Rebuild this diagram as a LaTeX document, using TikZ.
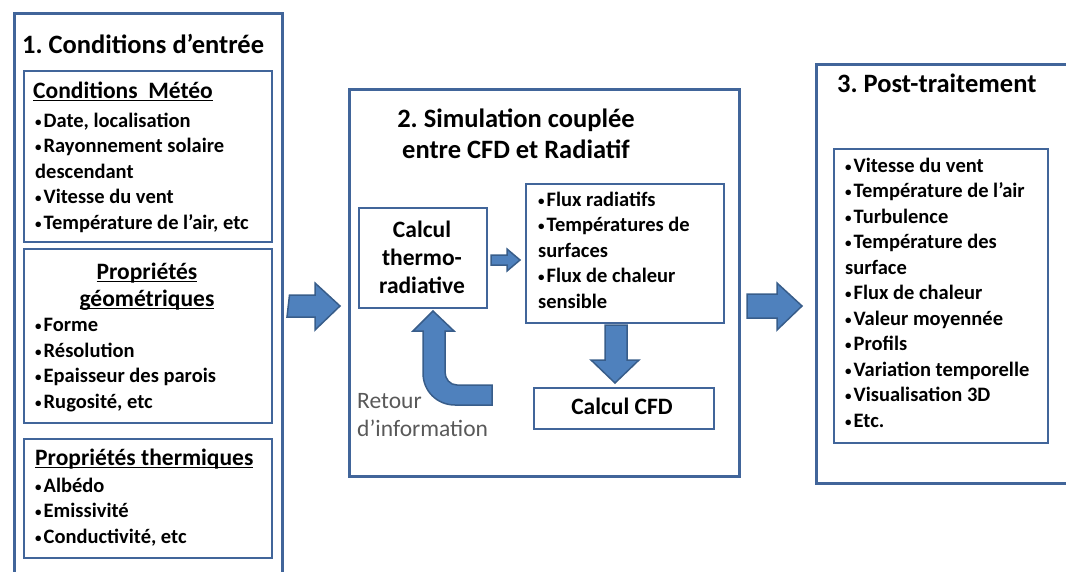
\documentclass[tikz,border=0pt]{standalone}
\usepackage{fontspec}
\setmainfont{Carlito}
\usepackage{graphicx}
\usetikzlibrary{%
  calc,%
}
\frenchspacing

\newsavebox\ulinebox
\newcommand{\myuline}[1]{\sbox\ulinebox{#1}\rlap{\rule[-3.3pt]{\wd\ulinebox}{1.3pt}}\usebox\ulinebox}
\newcommand{\puce}{\makebox[8.5pt][l]{\raisebox{1pt}{\fontsize{13}{13}\selectfont•}}}

\definecolor{boxline}{HTML}{41659A}
\definecolor{arrowfill}{HTML}{4F81BD}
\definecolor{arrowline}{HTML}{385D8A}
\definecolor{notegray}{HTML}{595959}

\begin{document}
\begin{tikzpicture}[x=1pt, y=-1pt,
    bigbox/.style={draw=boxline, line width=2.5pt, anchor=north west, inner sep=0pt},
    smallbox/.style={draw=boxline, line width=2pt, anchor=north west, inner sep=0pt},
    title/.style={font=\fontsize{26.5}{31}\selectfont\bfseries, inner sep=0pt},
    subtitle/.style={font=\fontsize{23.5}{27}\selectfont\bfseries, inner sep=0pt},
    items/.style={font=\fontsize{20.5}{25.5}\selectfont\bfseries, align=left, inner sep=0pt, anchor=base west},
    calcul/.style={font=\fontsize{23.5}{28}\selectfont\bfseries, align=center, inner sep=0pt},
    blockarrow/.style={fill=arrowfill, draw=arrowline, line width=1.5pt, line join=miter}]
        \path[use as bounding box, clip] (0,0) rectangle (1066,571);

        \node[bigbox, minimum width=268pt, minimum height=600pt] (entree) at (13,12) {};
        \node[title, anchor=base west] (entreeT) at (22,53) {1. Conditions d’entrée};
        \node[smallbox, minimum width=248pt, minimum height=171pt] (meteo) at (23,70) {};
        \node[subtitle, anchor=base west] (meteoT) at (33,98) {\myuline{Conditions\ \ Météo}};
        \node[items] (meteoL) at (35,229) {\puce Date, localisation\\\puce Rayonnement solaire\\descendant\\\puce Vitesse du vent\\\puce Température de l’air, etc};
        \node[smallbox, minimum width=248pt, minimum height=174pt] (geom) at (23,248) {};
        \node[subtitle, align=center, anchor=base] (geomT) at (147,306) {\myuline{Propriétés}\\\myuline{géométriques}};
        \node[items] (geomL) at (35,408) {\puce Forme\\\puce Résolution\\\puce Epaisseur des parois\\\puce Rugosité, etc};
        \node[smallbox, minimum width=248pt, minimum height=119pt] (therm) at (23,438) {};
        \node[subtitle, anchor=base west] (thermT) at (35,465) {\myuline{Propriétés thermiques}};
        \node[items] (thermL) at (35,543) {\puce Albédo\\\puce Emissivité\\\puce Conductivité, etc};

        \node[bigbox, minimum width=390pt, minimum height=387pt] (simu) at (348,88) {};
        \node[title, align=center, anchor=base] (simuT) at (516,158) {2. Simulation couplée\\entre CFD et Radiatif};
        \node[smallbox, minimum width=128pt, minimum height=100pt] (thermo) at (358,207) {};
        \node[calcul, anchor=base] (thermoT) at (422,293) {Calcul\\thermo-\\radiative};
        \node[smallbox, minimum width=198pt, minimum height=139pt] (flux) at (525,183) {};
        \node[items] (fluxL) at (538,308) {\puce Flux radiatifs\\\puce Températures de\\surfaces\\\puce Flux de chaleur\\sensible};
        \node[smallbox, minimum width=180pt, minimum height=41pt] (cfd) at (533,387) {};
        \node[calcul, anchor=base] (cfdT) at (622,414) {Calcul CFD};
        \node[font=\fontsize{23.5}{28}\selectfont, text=notegray, align=left, inner sep=0pt, anchor=base west] (retour) at (357,436) {Retour\\d’information};

        \node[bigbox, minimum width=270pt, minimum height=419pt] (post) at (815,63) {};
        \node[title, anchor=base west] (postT) at (837,92) {3. Post-traitement};
        \node[smallbox, minimum width=214pt, minimum height=294pt] (postL) at (833,148) {};
        \node[items] (postI) at (845,427) {\puce Vitesse du vent\\\puce Température de l’air\\\puce Turbulence\\\puce Température des\\surface\\\puce Flux de chaleur\\\puce Valeur moyennée\\\puce Profils\\\puce Variation temporelle\\\puce Visualisation 3D\\\puce Etc.};

        % fleches
        \draw[blockarrow] ($(entree.east |- 0,295)+(6,0)$) -- (315,295) -- (315,283) -- ($(simu.west |- 0,306)+(-8,0)$) -- (315,330) -- (315,317) -- (287,317) -- cycle;
        \draw[blockarrow] (747,294) -- (777,294) -- (777,283) -- ($(post.west |- 0,306)+(-13,0)$) -- (777,330) -- (777,318) -- (747,318) -- cycle;
        \draw[blockarrow] (491,255) -- (507,255) -- (507,249) -- ($(flux.west |- 0,260)+(-5,0)$) -- (507,271) -- (507,265) -- (491,265) -- cycle;
        \draw[blockarrow] (605,325) -- (627,325) -- (627,360) -- (639,360) -- ($(cfd.north -| 615,0)+(0,-4)$) -- (591,360) -- (605,360) -- cycle;
        \draw[blockarrow] (492,405) -- (455,405) .. controls (437,405) and (423,391) .. (423,373) -- (423,331) -- (413,331)
            -- ($(thermo.south -| 433,0)+(0,2)$) -- (454,331) -- (445,331) -- (445,372) .. controls (445,379) and (450,385) .. (457,385) -- (492,385) -- cycle;
\end{tikzpicture}
\end{document}
